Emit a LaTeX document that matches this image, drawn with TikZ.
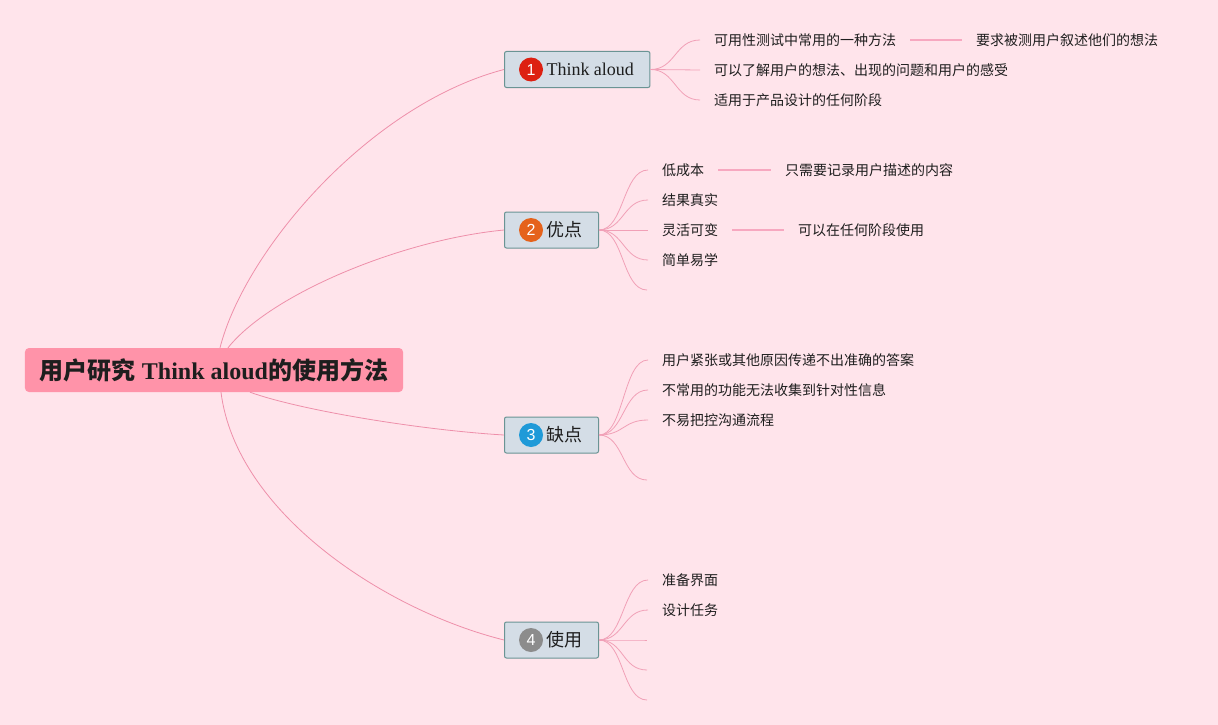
\documentclass[tikz,border=0pt]{standalone}
\usepackage{fontspec}
\setmainfont{Liberation Serif}
\newfontfamily\cjk{Noto Sans CJK SC}
\newfontfamily\digitfont{Liberation Sans}
\usetikzlibrary{positioning,calc}
\definecolor{bgpink}{HTML}{FFE4EB}
\definecolor{rootpink}{HTML}{FF93A9}
\definecolor{linkpink}{HTML}{EE8FAA}
\definecolor{stubpink}{HTML}{F7A8C0}
\definecolor{boxfill}{HTML}{D4DDE6}
\definecolor{boxline}{HTML}{6A9494}
\definecolor{dotred}{HTML}{DD2011}
\definecolor{dotorange}{HTML}{E5621B}
\definecolor{dotblue}{HTML}{1F9AD8}
\definecolor{dotgray}{HTML}{8C8C8C}
\definecolor{ink}{HTML}{1E1E1E}

\begin{document}
\begin{tikzpicture}[x=1pt,y=-1pt,
  root/.style={fill=rootpink,rounded corners=4pt,minimum height=44pt,inner xsep=15pt,text=ink,font=\fontsize{24}{28}\selectfont},
  topic/.style={draw=boxline,line width=1pt,fill=boxfill,rounded corners=2pt,minimum height=36pt,inner xsep=16pt,inner ysep=0pt,anchor=west,text=ink,font=\fontsize{18}{22}\selectfont},
  dot/.style={circle,minimum size=24pt,inner sep=0pt,text=white,font=\digitfont\fontsize{16}{16}\selectfont},
  leaf/.style={anchor=west,inner xsep=14pt,inner ysep=2pt,text=ink,font=\cjk\fontsize{14}{16}\selectfont},
  link/.style={draw=linkpink,line width=0.8pt},
  twig/.style={draw=linkpink!85,line width=0.8pt},
  stub/.style={draw=stubpink,line width=1.6pt}]
\fill[bgpink] (0,0) rectangle (1218,725);
\useasboundingbox (0,0) rectangle (1218,725);

% centre and main topics
\node[root] (root) at (214,370) {{\cjk\bfseries 用户研究} \textbf{Think aloud}{\cjk\bfseries 的使用方法}};
\node[topic] (t1) at (504,69.5) {\hspace*{26pt}Think aloud};
\node[topic] (t2) at (504,230) {\hspace*{26pt}{\cjk 优点}};
\node[topic] (t3) at (504,435) {\hspace*{26pt}{\cjk 缺点}};
\node[topic] (t4) at (504,640) {\hspace*{26pt}{\cjk 使用}};
\node[dot,fill=dotred] (n1) at ([xshift=27pt]t1.west) {1};
\node[dot,fill=dotorange] (n2) at ([xshift=27pt]t2.west) {2};
\node[dot,fill=dotblue] (n3) at ([xshift=27pt]t3.west) {3};
\node[dot,fill=dotgray] (n4) at ([xshift=27pt]t4.west) {4};

\draw[link] ([xshift=6pt]root.north) .. controls +(25,-98) and +(-134,35) .. (t1.west);
\draw[link] ([xshift=14pt]root.north) .. controls +(42,-53) and +(-104,10) .. (t2.west);
\draw[link] ([xshift=36pt]root.south) .. controls +(50,18) and +(-84,-5) .. (t3.west);
\draw[link] ([xshift=7pt]root.south) .. controls +(15,120) and +(-120,-30) .. (t4.west);

% Think aloud
\node[leaf] (a1) at (700,40) {可用性测试中常用的一种方法};
\node[leaf] (a1x) at (962,40) {要求被测用户叙述他们的想法};
\node[leaf] (a2) at (700,70) {可以了解用户的想法、出现的问题和用户的感受};
\node[leaf] (a3) at (700,100) {适用于产品设计的任何阶段};
\draw[stub] (a1.east) -- (a1x.west);

% 优点
\node[leaf] (b1) at (648,170) {低成本};
\node[leaf] (b1x) at (771,170) {只需要记录用户描述的内容};
\node[leaf] (b2) at (648,200) {结果真实};
\node[leaf] (b3) at (648,230) {灵活可变};
\node[leaf] (b3x) at (784,230) {可以在任何阶段使用};
\node[leaf] (b4) at (648,260) {简单易学};
\coordinate (b5) at (647,290);
\draw[stub] (b1.east) -- (b1x.west);
\draw[stub] (b3.east) -- (b3x.west);

% 缺点
\node[leaf] (c1) at (648,360) {用户紧张或其他原因传递不出准确的答案};
\node[leaf] (c2) at (648,390) {不常用的功能无法收集到针对性信息};
\node[leaf] (c3) at (648,420) {不易把控沟通流程};
\coordinate (c4) at (647,480);

% 使用
\node[leaf] (d1) at (648,580) {准备界面};
\node[leaf] (d2) at (648,610) {设计任务};
\coordinate (d3) at (647,640);
\coordinate (d4) at (647,670);
\coordinate (d5) at (647,700);

\foreach \l in {a1,a2,a3}
  \draw[twig] (t1.east) .. controls +(25,0) and +(-25,0) .. (\l.west);
\foreach \l in {b1,b2,b3,b4}
  \draw[twig] (t2.east) .. controls +(25,0) and +(-25,0) .. (\l.west);
\draw[twig] (t2.east) .. controls +(25,0) and +(-25,0) .. (b5);
\foreach \l in {c1,c2,c3}
  \draw[twig] (t3.east) .. controls +(25,0) and +(-25,0) .. (\l.west);
\draw[twig] (t3.east) .. controls +(25,0) and +(-25,0) .. (c4);
\foreach \l in {d1,d2}
  \draw[twig] (t4.east) .. controls +(25,0) and +(-25,0) .. (\l.west);
\foreach \l in {d3,d4,d5}
  \draw[twig] (t4.east) .. controls +(25,0) and +(-25,0) .. (\l);
\end{tikzpicture}
\end{document}
